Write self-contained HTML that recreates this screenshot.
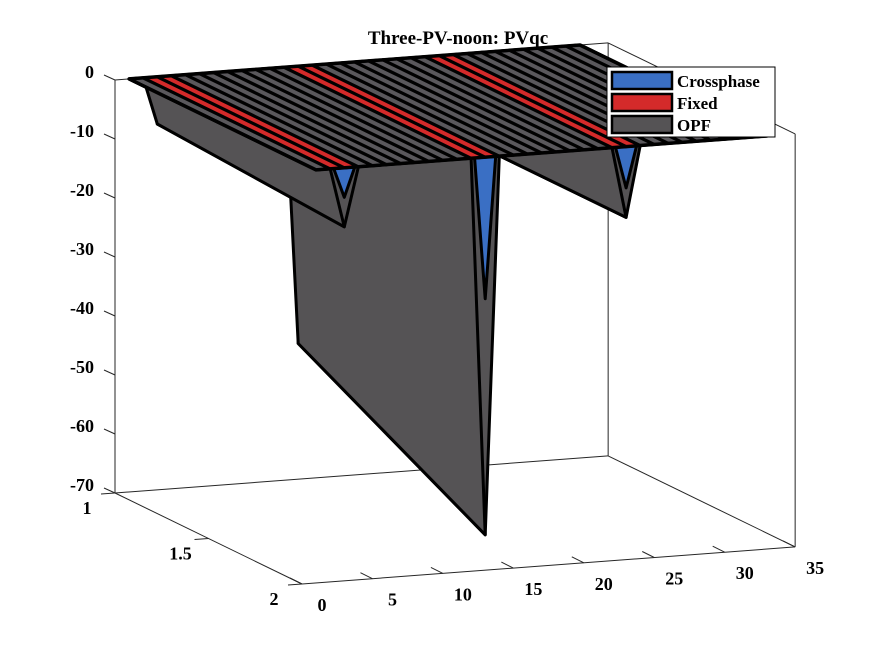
<!DOCTYPE html>
<html><head><meta charset="utf-8"><style>
body{margin:0;background:#fff;}
svg text{font-family:"Liberation Serif",serif;font-weight:bold;fill:#000;}
</style></head><body>
<svg id="chart" width="875" height="656" viewBox="0 0 875 656" xmlns="http://www.w3.org/2000/svg">
<rect width="875" height="656" fill="#fff"/>
<text x="458" y="44" font-size="19" text-anchor="middle">Three-PV-noon: PVqc</text>
<g id="axes"></g>
<g id="surf"></g>
<g id="ticks"></g>
<g>
<rect x="607" y="67" width="168" height="70" fill="#fff" stroke="#000" stroke-width="1"/>
<g><rect x="612" y="72" width="60" height="17" fill="#3a6fc4" stroke="#000" stroke-width="2.5"/><text x="677" y="87" font-size="17">Crossphase</text></g>
<g><rect x="612" y="94" width="60" height="17" fill="#d42a2a" stroke="#000" stroke-width="2.5"/><text x="677" y="109" font-size="17">Fixed</text></g>
<g><rect x="612" y="116" width="60" height="17" fill="#555355" stroke="#000" stroke-width="2.5"/><text x="677" y="131" font-size="17">OPF</text></g>
</g>
</svg>
<script>
const xCats = [];for(let i=1;i<=33;i++)xCats.push(i);
const opfY1 = [0,0,-8,0,0,0,0,0,0,0,0,0,-47,0,0,0,0,0,0,0,0,0,-12,0,0,0,0,0,0,0,0,0,0];
const opfY2 = [0,0,-10,0,0,0,0,0,0,0,0,0,-64,0,0,0,0,0,0,0,0,0,-12,0,0,0,0,0,0,0,0,0,0];
const crossY2 = [0,0,-5,0,0,0,0,0,0,0,0,0,-24,0,0,0,0,0,0,0,0,0,-7,0,0,0,0,0,0,0,0,0,0];
const fixedRed = [2,3,12,13,22,23];
const xTicks = [0,5,10,15,20,25,30,35];
const yTicks = [1,1.5,2];
const zTicks = [0,-10,-20,-30,-40,-50,-60,-70];

const NS="http://www.w3.org/2000/svg";
function P(x,y,z){
  return [115+14.09*x+187*(y-1), 493-1.06*x+91*(y-1)-5.9*(z+70)];
}
function el(tag,attrs,parent){const e=document.createElementNS(NS,tag);for(const k in attrs)e.setAttribute(k,attrs[k]);parent.appendChild(e);return e;}
function pts(a){return a.map(p=>p[0].toFixed(1)+','+p[1].toFixed(1)).join(' ');}
const axes=document.getElementById('axes'), surf=document.getElementById('surf'), ticks=document.getElementById('ticks');
const box=[[[0,1,-70],[35,1,-70]],[[35,1,-70],[35,2,-70]],[[0,1,-70],[0,2,-70]],[[0,2,-70],[35,2,-70]],
 [[0,1,-70],[0,1,0]],[[35,1,-70],[35,1,0]],[[35,2,-70],[35,2,0]],[[0,1,0],[35,1,0]],[[35,1,0],[35,2,0]]];
box.forEach(b=>{const a=P(...b[0]),c=P(...b[1]);
 const l=el('line',{x1:a[0],y1:a[1],x2:c[0],y2:c[1],stroke:'#262626','stroke-width':1},axes);
 
 });
for(let i=xCats.length-2;i>=0;i--){
  const q=[P(xCats[i],1,opfY1[i]),P(xCats[i+1],1,opfY1[i+1]),P(xCats[i+1],2,opfY2[i+1]),P(xCats[i],2,opfY2[i])];
  const p=el('polygon',{points:pts(q),fill:'#555355',stroke:'#000','stroke-width':3,'stroke-linejoin':'round'},surf);
  
  
}
crossY2.forEach((v,i)=>{ if(v===0) return; const x=xCats[i];
  const q=[P(x-0.75,2,0),P(x+0.75,2,0),P(x,2,v)];
  const p=el('polygon',{points:pts(q),fill:'#3a6fc4',stroke:'#000','stroke-width':3,'stroke-linejoin':'round'},surf);
  
  
});
const pl=el('polygon',{points:pts([P(1,1,0),P(33,1,0),P(33,2,0),P(1,2,0)]),fill:'#5a585c',stroke:'#000','stroke-width':3,'stroke-linejoin':'round'},surf);


fixedRed.forEach(c=>{
  const r=el('polygon',{points:pts([P(c,1,0),P(c+1,1,0),P(c+1,2,0),P(c,2,0)]),fill:'#d42a2a'},surf);
  
  
});
for(let x=1;x<=33;x+=1){const a=P(x,1,0),b=P(x,2,0);
  const l=el('line',{x1:a[0],y1:a[1],x2:b[0],y2:b[1],stroke:'#000','stroke-width':3.2},surf);
  
  }
const pl2=el('polygon',{points:pts([P(1,1,0),P(33,1,0),P(33,2,0),P(1,2,0)]),fill:'none',stroke:'#000','stroke-width':3.5,'stroke-linejoin':'round'},surf);


zTicks.forEach(z=>{const a=P(0,1,z);
  const l=el('line',{x1:a[0],y1:a[1],x2:a[0]-11,y2:a[1]-5,stroke:'#262626','stroke-width':1},ticks);
  
  
  const t=el('text',{x:a[0]-21,y:a[1]-2,'font-size':18,'text-anchor':'end'},ticks);t.textContent=z;
  
  });
xTicks.forEach(x=>{const a=P(x,2,-70);
  const l=el('line',{x1:a[0],y1:a[1],x2:a[0]-12,y2:a[1]-6,stroke:'#262626','stroke-width':1},ticks);
  
  
  const t=el('text',{x:a[0]+20,y:a[1]+27,'font-size':18,'text-anchor':'middle'},ticks);t.textContent=x;
  
  });
yTicks.forEach(y=>{const a=P(0,y,-70);
  const l=el('line',{x1:a[0],y1:a[1],x2:a[0]-14,y2:a[1]+1,stroke:'#262626','stroke-width':1},ticks);
  
  
  const t=el('text',{x:a[0]-28,y:a[1]+21,'font-size':18,'text-anchor':'middle'},ticks);t.textContent=y;
  
  });
</script>
</body></html>
